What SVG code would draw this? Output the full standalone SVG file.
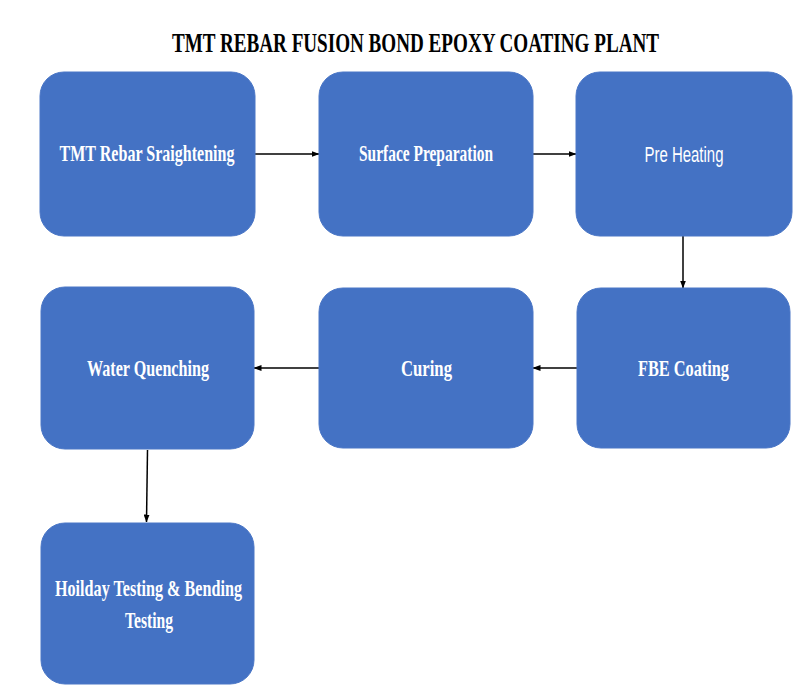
<svg xmlns="http://www.w3.org/2000/svg" width="800" height="700" viewBox="0 0 800 700">
<style>
.box{fill:#4472C4;stroke:#4A76C6;stroke-width:1}
.lbl{font-family:"Liberation Serif",serif;font-weight:bold;font-size:23px;fill:#ffffff;text-anchor:middle}
.lbls{font-family:"Liberation Sans",sans-serif;font-size:22px;fill:#ffffff;text-anchor:middle}
.title{font-family:"Liberation Serif",serif;font-weight:bold;font-size:28px;fill:#000000;text-anchor:middle}
.conn{stroke:#000000;stroke-width:1.5;fill:none;marker-end:url(#ah)}
</style>
<defs>
<marker id="ah" markerWidth="8" markerHeight="6" refX="7.5" refY="3" orient="auto" markerUnits="userSpaceOnUse">
<path d="M0,0 L8,3 L0,6 Z" fill="#000000"/>
</marker>
</defs>
<rect width="800" height="700" fill="#ffffff"/>
<text class="title" x="415.5" y="52" textLength="487" lengthAdjust="spacingAndGlyphs">TMT REBAR FUSION BOND EPOXY COATING PLANT</text>
<g id="connectors">
<line class="conn" x1="255" y1="154" x2="319" y2="154"/>
<line class="conn" x1="533" y1="154" x2="576" y2="154"/>
<line class="conn" x1="683" y1="236" x2="683" y2="288"/>
<line class="conn" x1="577" y1="368" x2="533" y2="368"/>
<line class="conn" x1="319" y1="368" x2="254" y2="368"/>
<line class="conn" x1="147.5" y1="450" x2="146.5" y2="522"/>
</g>
<g id="n1">
<rect class="box" x="40" y="72" width="215" height="164" rx="24"/>
<text class="lbl" x="147" y="161" textLength="175" lengthAdjust="spacingAndGlyphs">TMT Rebar Sraightening</text>
</g>
<g id="n2">
<rect class="box" x="319" y="72" width="214" height="164" rx="24"/>
<text class="lbl" x="426" y="161" textLength="134" lengthAdjust="spacingAndGlyphs">Surface Preparation</text>
</g>
<g id="n3">
<rect class="box" x="576" y="72" width="216" height="164" rx="24"/>
<text class="lbls" x="684" y="162" textLength="79" lengthAdjust="spacingAndGlyphs">Pre Heating</text>
</g>
<g id="n4">
<rect class="box" x="577" y="288" width="213" height="160" rx="24"/>
<text class="lbl" x="683.5" y="376" textLength="91" lengthAdjust="spacingAndGlyphs">FBE Coating</text>
</g>
<g id="n5">
<rect class="box" x="319" y="288" width="214" height="160" rx="24"/>
<text class="lbl" x="426.5" y="376" textLength="51" lengthAdjust="spacingAndGlyphs">Curing</text>
</g>
<g id="n6">
<rect class="box" x="41" y="287" width="213" height="162" rx="24"/>
<text class="lbl" x="148" y="376" textLength="122" lengthAdjust="spacingAndGlyphs">Water Quenching</text>
</g>
<g id="n7">
<rect class="box" x="41" y="523" width="213" height="161" rx="24"/>
<text class="lbl" x="148.5" y="596" textLength="187" lengthAdjust="spacingAndGlyphs">Hoilday Testing &amp; Bending</text>
<text class="lbl" x="149" y="628" textLength="48" lengthAdjust="spacingAndGlyphs">Testing</text>
</g>
</svg>
